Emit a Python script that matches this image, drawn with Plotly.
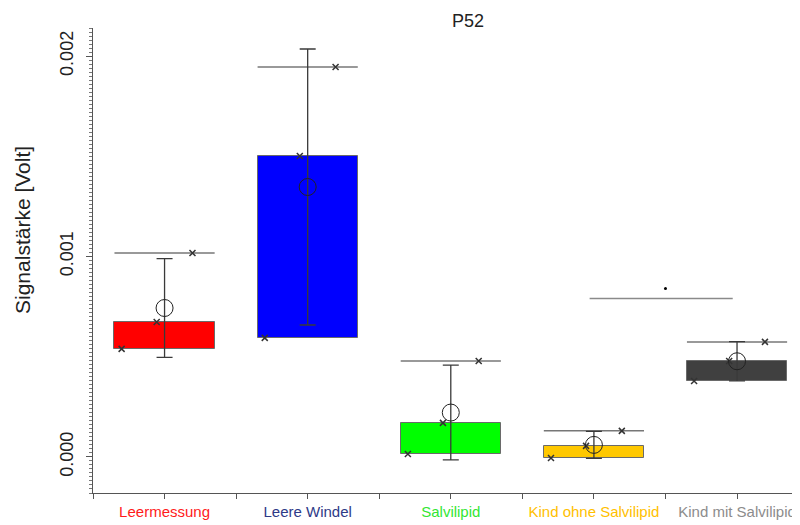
import numpy as np
import plotly.graph_objects as go

# ---- data (Volt) ----
categories = ["Leermessung", "Leere Windel", "Salvilipid", "Kind ohne Salvilipid", "Kind mit Salvilipid"]
leermessung = [0.000539, 0.000673, 0.001017]
leere_windel = [0.000594, 0.001501, 0.001945]
salvilipid = [0.000015, 0.000170, 0.000479]
kind_ohne = [-0.000005, 0.000055, 0.000130]
kind_mit = [0.000379, 0.000479, 0.000574]
groups = [leermessung, leere_windel, salvilipid, kind_ohne, kind_mit]

y_tick_vals = [0.000, 0.001, 0.002]
y_tick_labels = ["0.000", "0.001", "0.002"]
sig_pair = (3, 4)
sig_height = 0.00079
sig_mark_height = 0.00084

# ---- styles ----
box_colors = ["#FF0000", "#0000FF", "#00FF00", "#FFC800", "#404040"]
label_colors = ["#FF1A1A", "#2E3A87", "#33E633", "#FFC000", "#8C8C8C"]
point_offsets = [-0.30, -0.055, 0.195]
box_w = 0.70
FONT = "Liberation Sans, Arial, sans-serif"

# page has an 8px body margin -> layout is expressed in figure coords (screen - 8)
ML, MT, AXB = 85, 20, 485
W, H = 800, 525

xs = np.arange(len(categories))
lows = [float(np.min(g)) for g in groups]
meds = [float(np.median(g)) for g in groups]
maxs = [float(np.max(g)) for g in groups]
means = [float(np.mean(g)) for g in groups]
sds = [float(np.std(g, ddof=1)) for g in groups]

fig = go.Figure()

# boxes (min -> median)
fig.add_trace(go.Bar(
    x=xs, y=[m - l for m, l in zip(meds, lows)], base=lows, width=box_w,
    marker=dict(color=box_colors, line=dict(color="#6a6a6a", width=1)),
    showlegend=False, hoverinfo="skip"))

# max lines
lx, ly = [], []
for i, mx in zip(xs, maxs):
    lx += [i - box_w / 2, i + box_w / 2, None]
    ly += [mx, mx, None]
fig.add_trace(go.Scatter(x=lx, y=ly, mode="lines",
                         line=dict(color="#777777", width=1.5),
                         showlegend=False, hoverinfo="skip"))

# individual points
px, py = [], []
for i, g in zip(xs, groups):
    for off, v in zip(point_offsets, sorted(g)):
        px.append(i + off)
        py.append(v)
fig.add_trace(go.Scatter(x=px, y=py, mode="markers",
                         marker=dict(symbol="x-thin", size=6, line=dict(color="#333333", width=1.5)),
                         showlegend=False, hoverinfo="skip"))

# mean +/- sd
fig.add_trace(go.Scatter(x=xs, y=means, mode="markers",
                         error_y=dict(type="data", array=sds, visible=True,
                                      color="#3a3a3a", thickness=1.3, width=8),
                         marker=dict(symbol="circle-open", size=17,
                                     color="#222222", line=dict(width=1)),
                         showlegend=False, hoverinfo="skip"))

# significance line
fig.add_trace(go.Scatter(x=[sig_pair[0] - 0.03, sig_pair[1] - 0.03], y=[sig_height, sig_height],
                         mode="lines", line=dict(color="#8a8a8a", width=1.5),
                         showlegend=False, hoverinfo="skip"))
fig.add_trace(go.Scatter(x=[(sig_pair[0] + sig_pair[1]) / 2], y=[sig_mark_height],
                         mode="markers", marker=dict(color="black", size=3),
                         showlegend=False, hoverinfo="skip"))

ticktext = [f'<span style="color:{c}">{t}</span>' for t, c in zip(categories, label_colors)]

plot_h = AXB - MT
fig.update_layout(
    width=W, height=H,
    margin=dict(l=ML, r=8, t=MT, b=H - AXB, autoexpand=False),
    paper_bgcolor="white", plot_bgcolor="white",
    font=dict(family=FONT, color="#222222"),
    bargap=0,
    title=dict(text="P52", x=460 / W, xref="container", xanchor="center",
               y=1 - 13 / H, yref="container", yanchor="middle",
               font=dict(size=18, family=FONT, color="#222222")),
    xaxis=dict(range=[-0.5, 4.44], tickmode="array", tickvals=list(xs), ticktext=ticktext,
               automargin=False,
               showgrid=False, zeroline=False, showline=True, linecolor="#555555", linewidth=1,
               ticks="outside", ticklen=5, tickcolor="#555555",
               tickfont=dict(size=15, family=FONT),
               minor=dict(tickmode="linear", tick0=0.5, dtick=1, ticks="outside", ticklen=5,
                          tickcolor="#555555")),
    yaxis=dict(range=[-0.00018, 0.00214], tickmode="array", tickvals=y_tick_vals,
               ticktext=y_tick_labels, tickangle=-90, automargin=False,
               ticklabelstandoff=6,
               showgrid=False, zeroline=False, showline=True, linecolor="#555555", linewidth=1,
               ticks="outside", ticklen=6, tickcolor="#555555",
               tickfont=dict(size=18, family=FONT, color="#222222"),
               minor=dict(tickmode="linear", tick0=0, dtick=0.00002, ticks="outside",
                          ticklen=3, tickcolor="#777777")),
    annotations=[dict(text="Signalstärke [Volt]", textangle=-90, xref="paper", yref="paper",
                      x=(14 - ML) / (W - 8 - ML), y=(AXB - 222) / plot_h,
                      xanchor="center", yanchor="middle",
                      showarrow=False, font=dict(size=21, family=FONT, color="#222222"))],
)

fig.write_html("out.html")
